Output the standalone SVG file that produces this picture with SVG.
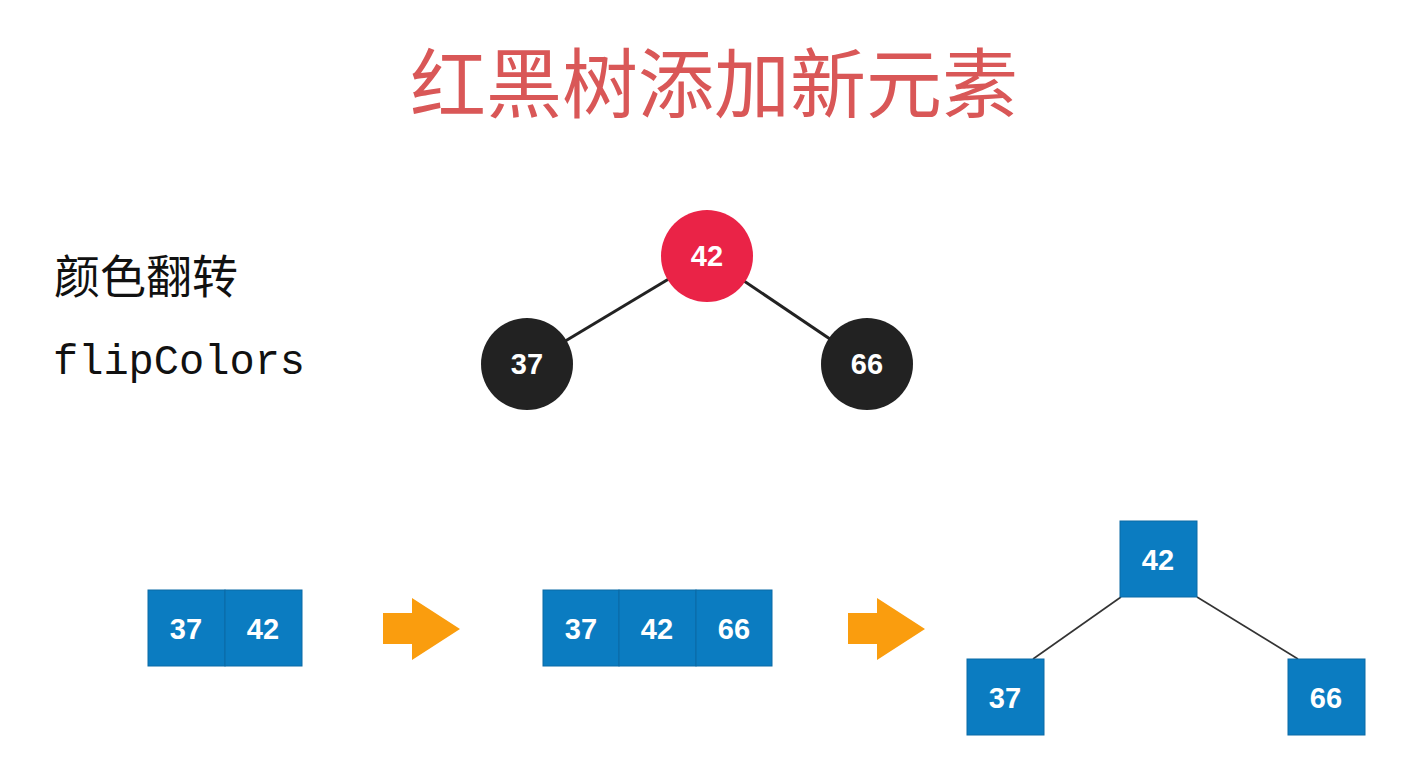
<svg xmlns="http://www.w3.org/2000/svg" width="1408" height="781" viewBox="0 0 1408 781">
<style>
.title{font-family:"Noto Sans CJK SC","Noto Sans",sans-serif;font-size:76px;fill:#d95757;}
.lbl{font-family:"Noto Sans CJK SC","Noto Sans",sans-serif;font-size:46px;fill:#111;}
.mono{font-family:"Liberation Mono","DejaVu Sans Mono",monospace;font-size:42px;fill:#111;}
.num{font-family:"Liberation Sans",Arial,sans-serif;font-weight:bold;font-size:29px;fill:#fff;text-anchor:middle;}
.box{fill:#0b7cc1;stroke:#0a6aa6;stroke-width:1;}
.arrow{fill:#fa9d0e;}
</style>
<rect width="1408" height="781" fill="#fff"/>
<text class="title" x="714" y="112" text-anchor="middle">红黑树添加新元素</text>
<text class="lbl" x="54" y="293">颜色翻转</text>
<text class="mono" x="53" y="374">flipColors</text>
<g id="connectors">
<line x1="707" y1="256" x2="527" y2="364" stroke="#222" stroke-width="3"/>
<line x1="707" y1="256" x2="867" y2="364" stroke="#222" stroke-width="3"/>
<line x1="1121" y1="597" x2="1033" y2="659" stroke="#333" stroke-width="1.6"/>
<line x1="1197" y1="597" x2="1298" y2="659" stroke="#333" stroke-width="1.6"/>
</g>
<g id="rb42"><circle cx="707" cy="256" r="46" fill="#ea2347"/><text class="num" x="707" y="266">42</text></g>
<g id="rb37"><circle cx="527" cy="364" r="46" fill="#222"/><text class="num" x="527" y="374">37</text></g>
<g id="rb66"><circle cx="867" cy="364" r="46" fill="#222"/><text class="num" x="867" y="374">66</text></g>
<g id="n2node">
<rect class="box" x="148" y="590" width="77" height="76"/><text class="num" x="186" y="639">37</text>
<rect class="box" x="225" y="590" width="77" height="76"/><text class="num" x="263" y="639">42</text>
</g>
<g id="arrow1"><path class="arrow" d="M383 613 H412 V598 L460 629 L412 660 V644 H383 Z"/></g>
<g id="n3node">
<rect class="box" x="543" y="590" width="76" height="76"/><text class="num" x="581" y="639">37</text>
<rect class="box" x="619" y="590" width="77" height="76"/><text class="num" x="657" y="639">42</text>
<rect class="box" x="696" y="590" width="76" height="76"/><text class="num" x="734" y="639">66</text>
</g>
<g id="arrow2"><path class="arrow" d="M848 613 H877 V598 L925 629 L877 660 V644 H848 Z"/></g>
<g id="t42"><rect class="box" x="1120" y="521" width="77" height="76"/><text class="num" x="1158" y="570">42</text></g>
<g id="t37"><rect class="box" x="967" y="659" width="77" height="76"/><text class="num" x="1005" y="708">37</text></g>
<g id="t66"><rect class="box" x="1288" y="659" width="77" height="76"/><text class="num" x="1326" y="708">66</text></g>
</svg>
